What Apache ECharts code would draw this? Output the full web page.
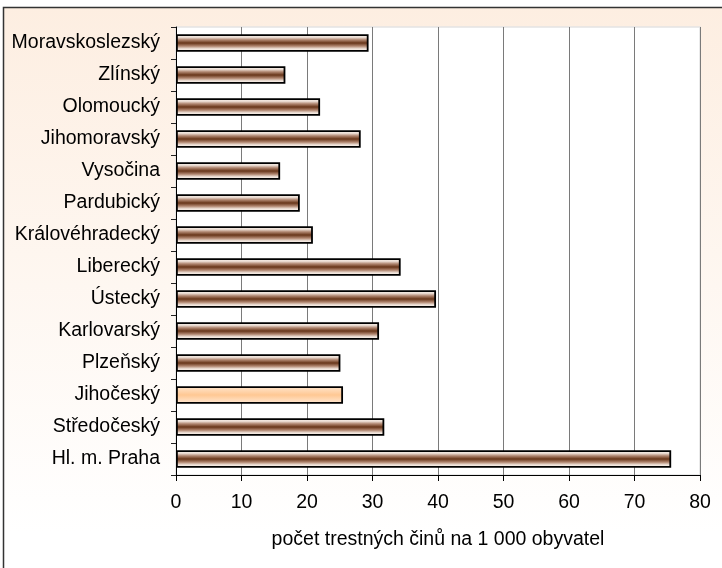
<!DOCTYPE html>
<html>
<head>
<meta charset="utf-8">
<script src="https://cdn.jsdelivr.net/npm/echarts@6/dist/echarts.min.js"></script>
<style>
html,body{margin:0;padding:0;background:#fff;}
#c{width:722px;height:568px;}
</style>
</head>
<body>
<div id="c"></div>
<script>
// Categories listed bottom to top (category axis starts at the bottom)
var categories = ["Hl. m. Praha","Středočeský","Jihočeský","Plzeňský","Karlovarský","Ústecký","Liberecký","Královéhradecký","Pardubický","Vysočina","Jihomoravský","Olomoucký","Zlínský","Moravskoslezský"];
var values = [75.6, 31.8, 25.5, 25.1, 31.0, 39.7, 34.3, 20.9, 18.9, 15.9, 28.2, 22.0, 16.7, 29.4];
var highlighted = "Jihočeský";
var xTicks = [0, 10, 20, 30, 40, 50, 60, 70, 80];
var xAxisTitle = "počet trestných činů na 1 000 obyvatel";

var chart = echarts.init(document.getElementById('c'), null, {renderer: 'canvas'});
var FONT = "'Liberation Sans', Arial, sans-serif";

var brownGrad = new echarts.graphic.LinearGradient(0, 0, 0, 1, [
  {offset: 0, color: '#c9b0a0'},
  {offset: 0.15, color: '#f6ede6'},
  {offset: 0.32, color: '#b08670'},
  {offset: 0.5, color: '#673519'},
  {offset: 0.68, color: '#b08670'},
  {offset: 0.85, color: '#f6ede6'},
  {offset: 1, color: '#e0c8ba'}
]);
var peachGrad = new echarts.graphic.LinearGradient(0, 0, 0, 1, [
  {offset: 0, color: '#ffe6cf'},
  {offset: 0.5, color: '#ffc893'},
  {offset: 1, color: '#ffe9d6'}
]);

var seriesData = values.map(function (v, i) {
  var item = {value: v};
  if (categories[i] === highlighted) {
    item.itemStyle = {color: peachGrad};
  }
  return item;
});

chart.setOption({
  animation: false,
  backgroundColor: '#ffffff',
  graphic: [{
    type: 'rect',
    z: -100,
    silent: true,
    shape: {x: 3.5, y: 7.5, width: 800, height: 700},
    style: {
      fill: new echarts.graphic.LinearGradient(0, 0, 0, 1, [
        {offset: 0, color: '#fdeee1'},
        {offset: 0.75, color: '#ffffff'},
        {offset: 1, color: '#ffffff'}
      ]),
      stroke: '#333333',
      lineWidth: 1.5
    }
  }],
  grid: {
    left: 176, top: 27, width: 524, height: 448,
    show: true, backgroundColor: '#ffffff',
    borderColor: '#e4e4e4', borderWidth: 1.5,
    containLabel: false
  },
  xAxis: {
    type: 'value',
    min: xTicks[0], max: xTicks[xTicks.length - 1], interval: 10,
    name: xAxisTitle,
    nameLocation: 'middle',
    nameGap: 55,
    nameTextStyle: {fontFamily: FONT, fontSize: 19.5, color: '#000'},
    axisLine: {show: true, lineStyle: {color: '#000', width: 1}},
    axisTick: {show: true, length: 6, lineStyle: {color: '#000'}},
    axisLabel: {fontFamily: FONT, fontSize: 19.5, color: '#000', margin: 18},
    splitLine: {show: true, lineStyle: {color: '#7a7a7a', width: 1}}
  },
  yAxis: {
    type: 'category',
    data: categories,
    axisLine: {show: true, lineStyle: {color: '#000', width: 1}},
    axisTick: {show: true, length: 5, lineStyle: {color: '#222'}},
    axisLabel: {fontFamily: FONT, fontSize: 19.5, color: '#000', margin: 16},
    splitLine: {show: false}
  },
  series: [{
    type: 'bar',
    data: seriesData,
    barWidth: 17.5,
    itemStyle: {color: brownGrad, borderColor: '#000', borderWidth: 1.8},
    emphasis: {disabled: true}
  }]
});
</script>
</body>
</html>
